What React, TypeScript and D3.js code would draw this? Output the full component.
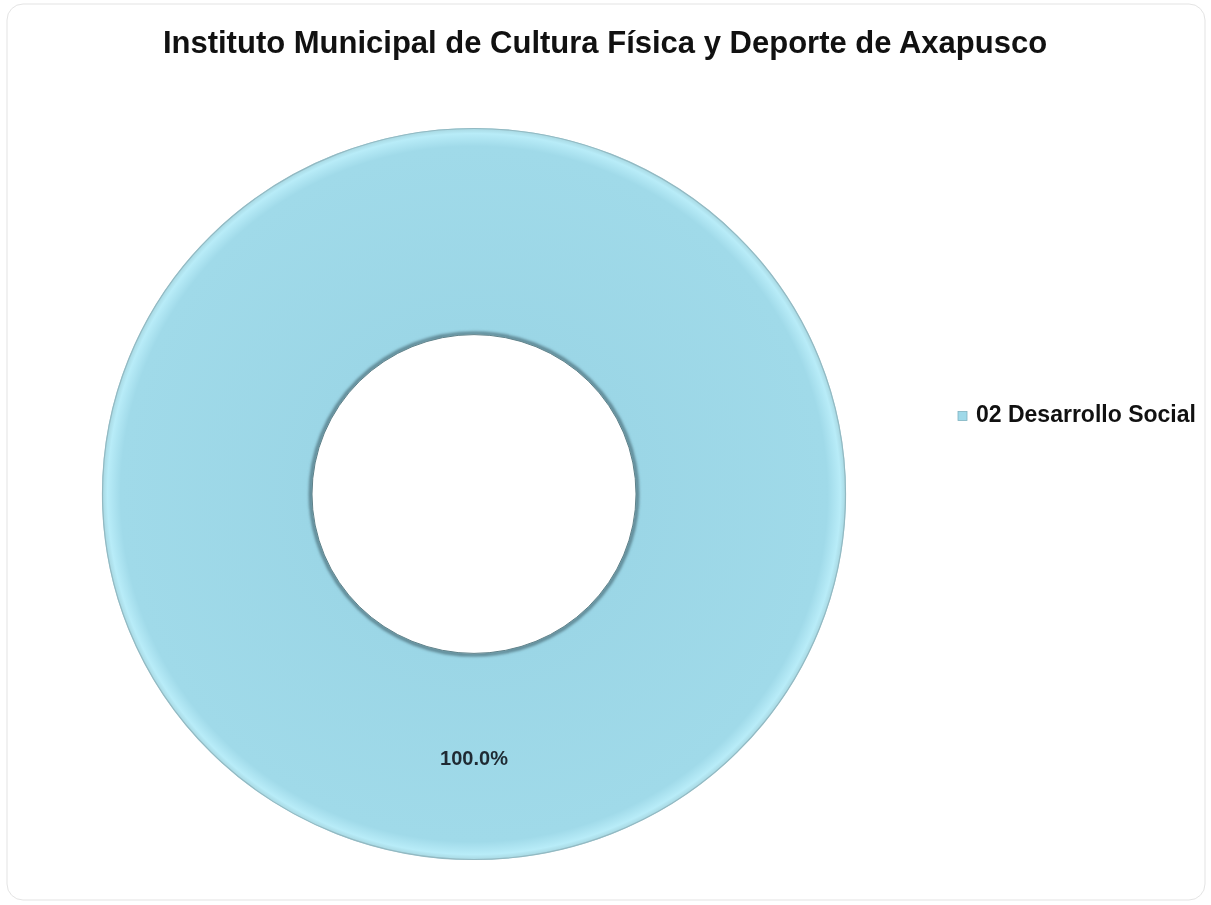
import React from 'react';
import * as d3 from 'd3';

const categories: string[] = ['02 Desarrollo Social'];
const values: number[] = [100];
const colors: string[] = ['#9fd9e9'];
const title = 'Instituto Municipal de Cultura Física y Deporte de Axapusco';

const W = 1211;
const H = 905;
const cx = 474;
const cy = 494;
const outerR = 372;
const innerR = 162;
const yScale = 366 / 372;

const App: React.FC = () => {
  const pie = d3.pie<number>().sort(null).value(d => d);
  const arcs = pie(values);
  const total = d3.sum(values);
  const arc = d3.arc<d3.PieArcDatum<number>>().innerRadius(innerR).outerRadius(outerR);
  const labelArc = d3.arc<d3.PieArcDatum<number>>().innerRadius(0).outerRadius(0);

  return (
    <div style={{ position: 'fixed', left: 0, top: 0 }}>
      <svg width={W} height={H} style={{ display: 'block', fontFamily: 'Liberation Sans, Arial, sans-serif' }}>
        <defs>
          <radialGradient id="ringGrad" cx="0" cy="0" r={outerR} gradientUnits="userSpaceOnUse">
            <stop offset={`${(innerR / outerR) * 100}%`} stopColor="#9bd6e6" />
            <stop offset="95%" stopColor="#a0dae9" />
            <stop offset="98.5%" stopColor="#b8ecf8" />
            <stop offset="100%" stopColor="#a6d6e0" />
          </radialGradient>
          <filter id="blur1" x="-10%" y="-10%" width="120%" height="120%">
            <feGaussianBlur stdDeviation="1.6" />
          </filter>
        </defs>
        <rect x={7} y={4} width={1198} height={896} rx={16} fill="#fff" stroke="#e3e3e3" strokeWidth={1} />
        <text x={605} y={53} textAnchor="middle" fontSize={31} fontWeight="bold" fill="#111">
          {title}
        </text>
        <g transform={`translate(${cx},${cy}) scale(1,${yScale})`}>
          {arcs.map((a, i) => (
            <g key={categories[i]}>
              <path d={arc(a) ?? ''} fill={values.length === 1 ? 'url(#ringGrad)' : colors[i]} />
              <circle r={outerR - 0.5} fill="none" stroke="#93b9c2" strokeWidth={1.2} />
              <circle r={innerR + 1.5} fill="none" stroke="#4f7480" strokeWidth={3} filter="url(#blur1)" />
              <circle r={innerR} fill="#fff" />
              <circle r={innerR} fill="none" stroke="#5d7f88" strokeWidth={1} />
            </g>
          ))}
        </g>
        {arcs.map((a, i) => {
          const [lx] = labelArc.centroid(a);
          const y = cy + ((innerR + outerR) / 2) * yScale + 3;
          return (
            <text key={`l${i}`} x={cx + lx} y={y} textAnchor="middle" dominantBaseline="middle" fontSize={20} fontWeight="bold" fill="#1f2a33">
              {`${((values[i] / total) * 100).toFixed(1)}%`}
            </text>
          );
        })}
        {categories.map((c, i) => (
          <g key={c} transform={`translate(958,${416 + i * 28})`}>
            <rect x={0} y={-4.5} width={9} height={9} fill={colors[i]} stroke="#7fb2c0" strokeWidth={0.8} />
            <text x={18} y={0} dominantBaseline="middle" fontSize={23} fontWeight="bold" fill="#111">
              {c}
            </text>
          </g>
        ))}
      </svg>
    </div>
  );
};

export default App;
